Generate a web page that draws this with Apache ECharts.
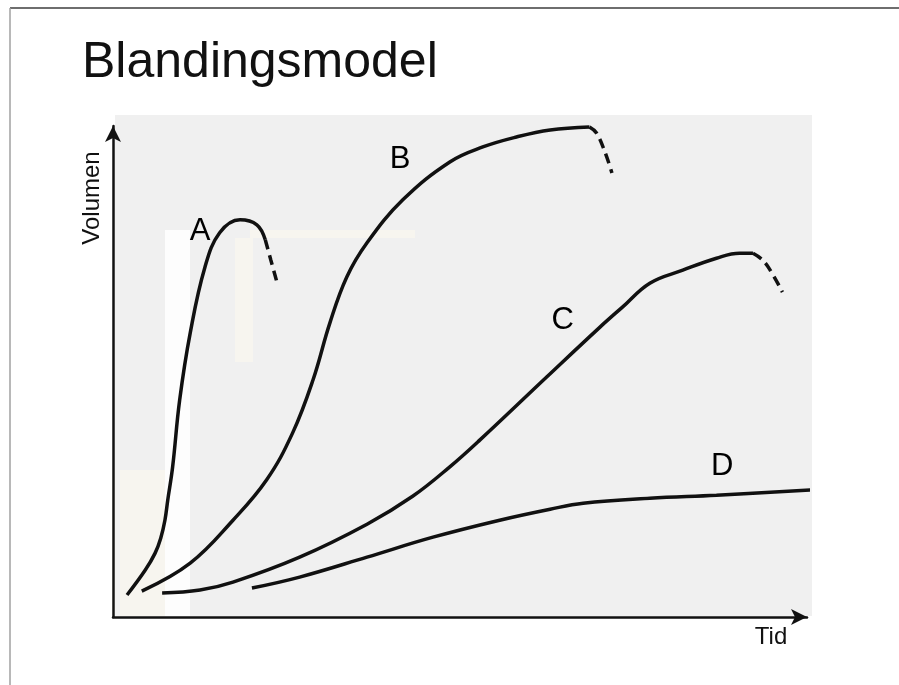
<!DOCTYPE html>
<html>
<head>
<meta charset="utf-8">
<script src="https://cdn.jsdelivr.net/npm/echarts@6/dist/echarts.min.js"></script>
<style>
  html, body { margin: 0; padding: 0; background: #fff; }
  #chart { width: 899px; height: 685px; }
</style>
</head>
<body>
<div id="chart"></div>
<script>
// curves: [tid, volumen]
const curveA = [[2.0, 4.4], [4.6, 9.4], [6.0, 12.8], [6.8, 15.8], [7.4, 19.4], [7.8, 23.4], [8.5, 30.1],
    [9.5, 43.5], [11.0, 56.9], [13.1, 70.1], [15.2, 77.0], [18.1, 79.6], [20.5, 78.6], [21.7, 75.6]];
const curveAEnd = [[21.7, 75.6], [22.5, 71.5], [23.4, 66.9]];

const curveB = [[4.1, 5.2], [11.0, 10.8], [17.1, 19.4], [21.9, 27.5], [25.6, 36.9], [28.5, 47.5],
    [30.9, 58.9], [33.3, 68.1], [36.2, 75.0], [41.3, 83.6], [48.0, 91.2],
    [52.7, 94.2], [57.5, 96.2], [62.3, 97.6], [67.9, 98.2]];
const curveBEnd = [[67.9, 98.2], [68.9, 97.0], [70.1, 93.2], [71.1, 89.0]];

const curveC = [[7.0, 4.8], [12.4, 5.4], [17.1, 7.0], [26.6, 12.0], [36.2, 18.6], [42.7, 24.2],
    [48.0, 30.1], [52.3, 35.5], [61.8, 48.1], [69.4, 58.1], [72.6, 62.1], [76.5, 66.9],
    [81.2, 69.5], [86.0, 71.9], [89.3, 72.9], [91.2, 72.9]];
const curveCEnd = [[91.2, 72.9], [92.6, 71.5], [94.0, 68.7], [95.4, 65.1]];

const curveD = [[19.8, 5.8], [26.6, 8.0], [36.2, 12.0], [45.6, 16.0], [55.1, 19.4], [62.3, 21.6],
    [67.0, 22.8], [76.5, 23.8], [86.0, 24.4], [100, 25.5]];

const curveNames = ['A', 'B', 'C', 'D'];
const namePoints = [[12.4, 77.2], [40.9, 91.6], [64.1, 59.5], [86.8, 30.1]];

const title = 'Blandingsmodel';
const yName = 'Volumen';
const xName = 'Tid';

const FONT = '"Liberation Sans", Arial, sans-serif';
const INK = '#111';

const chart = echarts.init(document.getElementById('chart'), null, { renderer: 'canvas' });

function curve(data, dash) {
    return {
        type: 'line', data, smooth: 0.4, showSymbol: false,
        clip: false, silent: true,
        lineStyle: { color: INK, width: 3.5, type: dash ? [10, 6] : 'solid' }
    };
}

const paper = '#f0f0f0';
const cream = '#f7f5ef';

chart.setOption({
    backgroundColor: '#fff',
    animation: false,
    grid: { left: 113, right: 92, top: 126, bottom: 68 },
    xAxis: {
        type: 'value', min: 0, max: 98.9,
        axisLine: { show: true, symbol: ['none', 'arrow'], symbolSize: [12, 16],
            lineStyle: { color: INK, width: 2.5 } },
        axisTick: { show: false }, axisLabel: { show: false }, splitLine: { show: false }
    },
    yAxis: {
        type: 'value', min: 0, max: 98.4,
        axisLine: { show: true, symbol: ['none', 'arrow'], symbolSize: [12, 16],
            lineStyle: { color: INK, width: 2.5 } },
        axisTick: { show: false }, axisLabel: { show: false }, splitLine: { show: false }
    },
    graphic: [
        // slide frame
        { type: 'line', z: 10, shape: { x1: 10, y1: 8, x2: 899, y2: 8 },
          style: { stroke: '#6e6e6e', lineWidth: 2 } },
        { type: 'line', z: 10, shape: { x1: 10, y1: 8, x2: 10, y2: 685 },
          style: { stroke: '#a0a0a0', lineWidth: 1.5 } },
        // scanned paper background
        { type: 'rect', z: -10, shape: { x: 115, y: 115, width: 697, height: 501 },
          style: { fill: paper } },
        { type: 'rect', z: -9, shape: { x: 120, y: 470, width: 45, height: 146 },
          style: { fill: cream } },
        { type: 'rect', z: -9, shape: { x: 165, y: 230, width: 25, height: 386 },
          style: { fill: '#fdfdfd' } },
        { type: 'rect', z: -9, shape: { x: 250, y: 230, width: 165, height: 8 },
          style: { fill: cream } },
        { type: 'rect', z: -9, shape: { x: 235, y: 238, width: 18, height: 124 },
          style: { fill: cream } },
        // texts
        { type: 'text', left: 82, top: 38, z: 10,
          style: { text: title, font: '50px ' + FONT, fill: '#111' } },
        { type: 'text', z: 10, x: 92, y: 198, rotation: Math.PI / 2,
          style: { text: yName, font: '24px ' + FONT, fill: '#111', align: 'center', verticalAlign: 'middle' } },
        { type: 'text', z: 10, x: 771, y: 637,
          style: { text: xName, font: '24px ' + FONT, fill: '#111', align: 'center', verticalAlign: 'middle' } }
    ],
    series: [
        curve(curveA), curve(curveAEnd, true),
        curve(curveB), curve(curveBEnd, true),
        curve(curveC), curve(curveCEnd, true),
        curve(curveD),
        {
            type: 'scatter', symbolSize: 0, silent: true, clip: false,
            itemStyle: { opacity: 1 },
            data: namePoints.map((p, i) => ({ value: p, name: curveNames[i] })),
            label: { show: true, position: 'inside', formatter: '{b}', opacity: 1,
                fontFamily: FONT, fontSize: 31, color: '#000' }
        }
    ]
});
</script>
</body>
</html>
